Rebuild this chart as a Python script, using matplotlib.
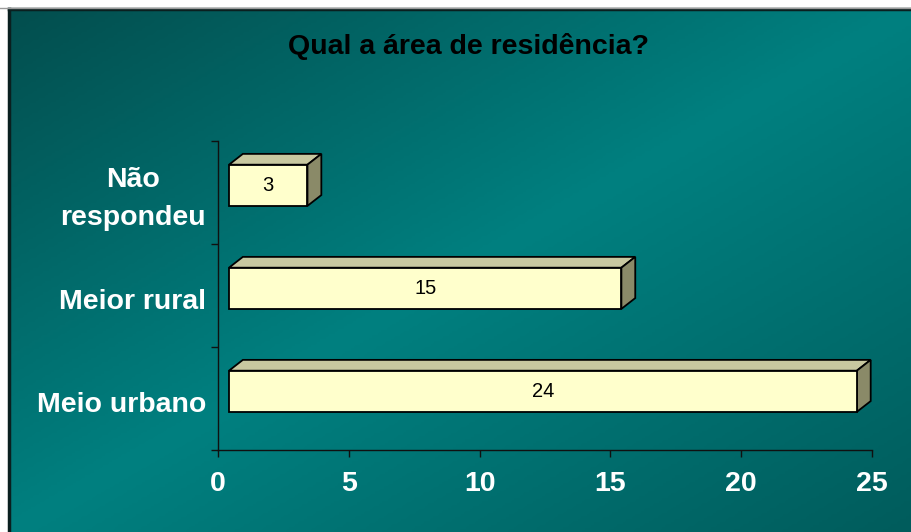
import numpy as np
import matplotlib.pyplot as plt
from matplotlib.patches import Polygon
from matplotlib.colors import LinearSegmentedColormap

# data
categories = ['Meio urbano', 'Meior rural', 'Não\nrespondeu']
values = [24, 15, 3]
xticks = [0, 5, 10, 15, 20, 25]
title = 'Qual a área de residência?'

W, H = 912, 532
fig = plt.figure(figsize=(W / 100, H / 100), dpi=100)
fig.patch.set_facecolor('white')

# gradient background panel
bg = fig.add_axes([9 / W, 0, 1 - 9 / W, 1 - 9 / H])
bg.set_axis_off()
xx, yy = np.meshgrid(np.linspace(0, 1, 300), np.linspace(0, 1, 200))
t = (xx + yy) / 2
cmap = LinearSegmentedColormap.from_list(
    'teal', [(0, '#034e4e'), (0.5, '#008080'), (1, '#005c5c')])
bg.imshow(t, cmap=cmap, aspect='auto', extent=[0, 1, 0, 1], vmin=0, vmax=1)
bg.set_xlim(0, 1)
bg.set_ylim(0, 1)
bg.plot([0, 0], [0, 1], color='#0a1f1f', lw=2.5, transform=bg.transAxes, clip_on=False)
bg.plot([0, 1], [1, 1], color='#0a1f1f', lw=2.5, transform=bg.transAxes, clip_on=False)
fig.add_artist(plt.Line2D([0, 1], [1 - 8 / H, 1 - 8 / H], color='#9a9a9a', lw=1))

ax = fig.add_axes([218 / W, 1 - 450 / H, (872 - 218) / W, (450 - 141) / H])
ax.patch.set_alpha(0)
ax.set_xlim(0, 25)
ax.set_ylim(0, 3)
for s in ['top', 'right']:
    ax.spines[s].set_visible(False)
for s in ['left', 'bottom']:
    ax.spines[s].set_color('#101010')
    ax.spines[s].set_linewidth(1.0)

ax.set_xticks(xticks)
ax.set_xticklabels([str(v) for v in xticks], color='white', fontsize=20.5,
                   fontweight='bold', family='Liberation Sans')
ax.set_yticks([0, 1, 2, 3])
ax.set_yticklabels([])
ax.tick_params(axis='both', color='#101010', length=5, width=1.0)
ax.tick_params(axis='x', pad=10)

ox, dx, dy, h, off = 0.42, 0.53, 0.105, 0.40, 0.07
front, top, side = '#ffffcc', '#c8c8a0', '#8a8a68'
for i, (cat, v) in enumerate(zip(categories, values)):
    c = i + 0.5
    yb = c + off - h / 2
    yt = c + off + h / 2
    x0, x1 = ox, ox + v
    ax.add_patch(Polygon([(x0, yt), (x1, yt), (x1 + dx, yt + dy), (x0 + dx, yt + dy)],
                         closed=True, fc=top, ec='black', lw=1.3, clip_on=False, zorder=3))
    ax.add_patch(Polygon([(x1, yb), (x1 + dx, yb + dy), (x1 + dx, yt + dy), (x1, yt)],
                         closed=True, fc=side, ec='black', lw=1.3, clip_on=False, zorder=3))
    ax.add_patch(Polygon([(x0, yb), (x1, yb), (x1, yt), (x0, yt)],
                         closed=True, fc=front, ec='black', lw=1.3, clip_on=False, zorder=4))
    ax.text((x0 + x1) / 2, c + off, str(v), ha='center', va='center',
            fontsize=14.5, color='black', family='Liberation Sans', zorder=5)
    ax.text(-0.45, c - 0.06, cat, ha='right', va='center', multialignment='center',
            fontsize=20.5, fontweight='bold', color='white', family='Liberation Sans',
            linespacing=1.6)

fig.text(468 / W, 1 - 47 / H, title, ha='center', va='center', fontsize=20.5,
         fontweight='bold', color='black', family='Liberation Sans')

fig.savefig('out.png', dpi=100)
